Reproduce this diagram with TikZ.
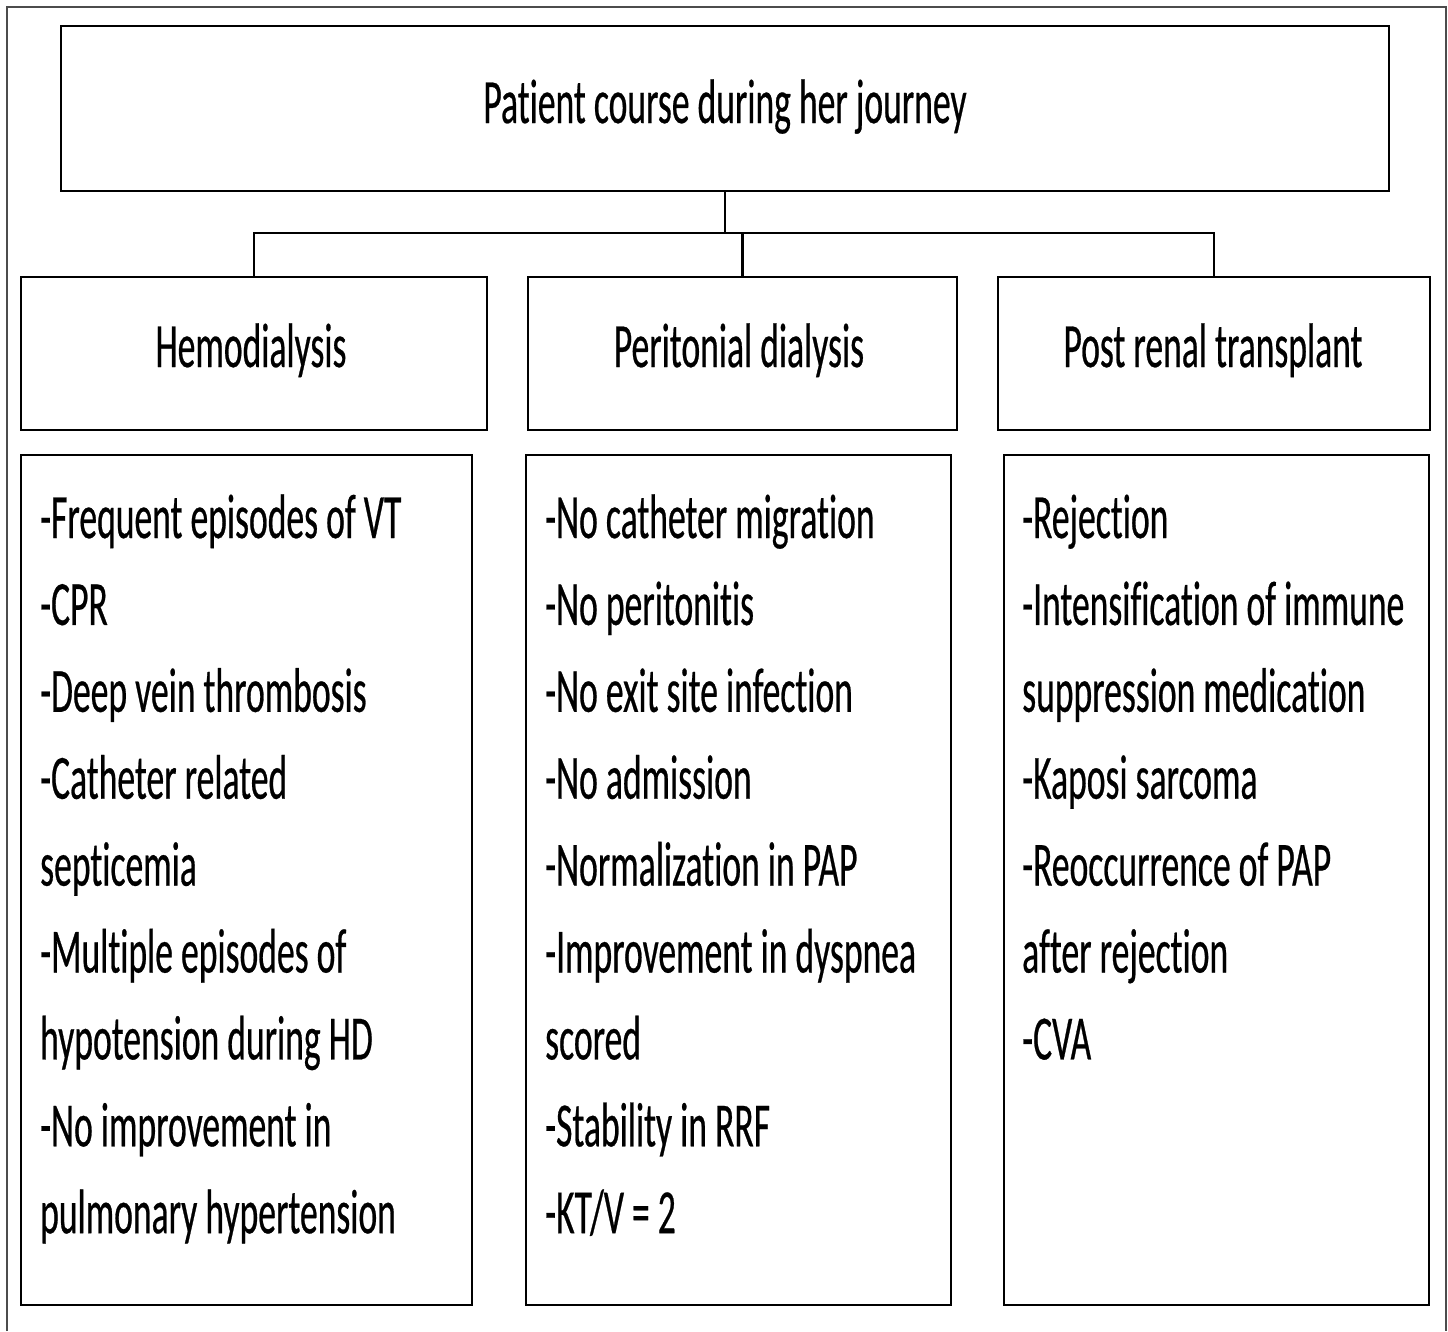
\documentclass[tikz,border=0pt]{standalone}
\usepackage{fontspec}
\setmainfont{Carlito}[FakeStretch=0.565, FakeBold=0.4, Ligatures=NoCommon]
\begin{document}
\begin{tikzpicture}[x=1pt,y=-1pt,
  boxstyle/.style={draw=black, line width=2.8pt, inner sep=0pt, fill=white},
  linkstyle/.style={draw=black, line width=2.6pt},
  txt/.style={inner sep=0pt, font=\fontsize{63}{87}\selectfont}]
\useasboundingbox (0,0) rectangle (1448,1331);
\draw[line width=2pt, draw=black!70] (7,1331) -- (7,7) -- (1446,7) -- (1446,1331);
% boxes
\node[boxstyle, minimum width=1328pt, minimum height=165pt] (top) at (725,108.5) {};
\node[boxstyle, minimum width=466pt, minimum height=153pt] (hd) at (254,353.5) {};
\node[boxstyle, minimum width=429pt, minimum height=153pt] (pd) at (742.5,353.5) {};
\node[boxstyle, minimum width=432pt, minimum height=153pt] (tx) at (1214,353.5) {};
\node[boxstyle, minimum width=451pt, minimum height=850pt] (hdc) at (246.5,880) {};
\node[boxstyle, minimum width=425pt, minimum height=850pt] (pdc) at (738.5,880) {};
\node[boxstyle, minimum width=425pt, minimum height=850pt] (txc) at (1216.5,880) {};
% connectors
\coordinate (bar) at (725,233);
\draw[linkstyle] (top.south) -- (bar);
\draw[linkstyle] (hd.north) -- (hd.north |- bar) -- (tx.north |- bar) -- (tx.north);
\draw[linkstyle] (pd.north |- bar) -- (pd.north);
% titles
\node[txt, anchor=base] (ttop) at (725,123) {Patient course during her journey};
\node[txt, anchor=base] (thd) at (251,367) {Hemodialysis};
\node[txt, anchor=base] (tpd) at (739,367) {Peritonial dialysis};
\node[txt, anchor=base] (ttx) at (1213,367) {Post renal transplant};
% contents
\foreach \t [count=\i] in {-Frequent episodes of VT,-CPR,-Deep vein thrombosis,-Catheter related,septicemia,-Multiple episodes of,hypotension during HD,-No improvement in,pulmonary hypertension}
  \node[txt, anchor=base west] (a\i) at (40,{538+86.9*(\i-1)}) {\t};
\foreach \t [count=\i] in {-No catheter migration,-No peritonitis,-No exit site infection,-No admission,-Normalization in PAP,-Improvement in dyspnea,scored,-Stability in RRF,-KT/V = 2}
  \node[txt, anchor=base west] (b\i) at (545,{538+86.9*(\i-1)}) {\t};
\foreach \t [count=\i] in {-Rejection,-Intensification of immune,suppression medication,-Kaposi sarcoma,-Reoccurrence of PAP,after rejection,-CVA}
  \node[txt, anchor=base west] (c\i) at (1022,{538+86.9*(\i-1)}) {\t};
\end{tikzpicture}
\end{document}
